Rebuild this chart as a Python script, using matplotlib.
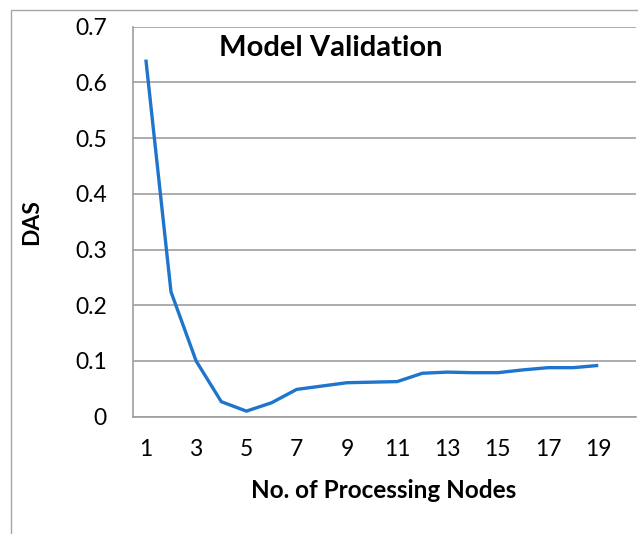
import numpy as np
import matplotlib
matplotlib.use("Agg")
import matplotlib.pyplot as plt
from matplotlib.patches import Rectangle
from matplotlib.ticker import FuncFormatter

# data
nodes = list(range(1, 20))
das = [0.641, 0.224, 0.100, 0.027, 0.010, 0.025, 0.049, 0.055, 0.061, 0.062,
       0.063, 0.078, 0.080, 0.079, 0.079, 0.084, 0.088, 0.088, 0.092]
yticks = [0, 0.1, 0.2, 0.3, 0.4, 0.5, 0.6, 0.7]
xticks = list(range(1, 20, 2))

plt.rcParams['font.family'] = ['Lato', 'DejaVu Sans']

W, H = 638, 534
fig = plt.figure(figsize=(W / 100, H / 100), dpi=100)

# outer chart border (cropped on the right and bottom)
fig.patches.append(Rectangle((11 / W, -0.05), 1.2, 1 - 10 / H + 0.05,
                             transform=fig.transFigure, fill=False,
                             edgecolor='#a6a6a6', linewidth=1.0))

ax = fig.add_axes([133.3 / W, 1 - 416.7 / H, (636 - 133.3) / W, (416.7 - 26.7) / H])

ax.plot(nodes, das, color='#1f74cc', linewidth=2.4, solid_capstyle='butt')

ax.set_xlim(0.5, 20.5)
ax.set_ylim(0, 0.7)
ax.set_yticks(yticks)
ax.set_xticks(xticks)
ax.yaxis.set_major_formatter(FuncFormatter(lambda v, p: '0' if v == 0 else f'{v:.1f}'))
ax.tick_params(axis='both', length=0, labelsize=16.5, colors='black')
ax.tick_params(axis='y', pad=19)
ax.tick_params(axis='x', pad=16)

ax.grid(axis='y', color='#9e9e9e', linewidth=1.2)
ax.set_axisbelow(True)
for side in ['top', 'right']:
    ax.spines[side].set_visible(False)
for side in ['left', 'bottom']:
    ax.spines[side].set_color('#9e9e9e')
    ax.spines[side].set_linewidth(1.2)

fig.text(331 / W, 1 - 48 / H, 'Model Validation', fontsize=21, fontweight='bold',
         ha='center', va='center')
fig.text(32 / W, 1 - 222 / H, 'DAS', fontsize=16.5, fontweight='bold',
         rotation=90, ha='center', va='center')
fig.text(384 / W, 1 - 490 / H, 'No. of Processing Nodes', fontsize=17.5,
         fontweight='bold', ha='center', va='center')

fig.savefig('out.png', dpi=100, facecolor='white')
